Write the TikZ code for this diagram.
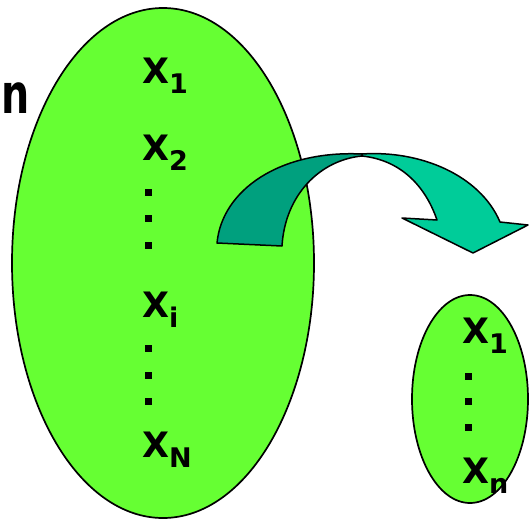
\documentclass[tikz,border=0pt]{standalone}
\usepackage{fontspec}
\setmainfont{DejaVu Sans}
\usetikzlibrary{shapes.geometric}
\definecolor{blobgreen}{HTML}{66FF33}
\definecolor{darkteal}{HTML}{00A07E}
\definecolor{lightteal}{HTML}{00CC99}
\newcommand{\bigX}[1]{{\fontsize{35}{35}\selectfont\bfseries X}\raisebox{-10pt}{\fontsize{27}{27}\selectfont\bfseries #1}}
\begin{document}
\begin{tikzpicture}[x=1pt,y=-1pt,
  blob/.style={ellipse, draw=black, line width=1.7pt, fill=blobgreen, inner sep=0},
  lbl/.style={inner sep=0, anchor=base west},
  sqdot/.style={rectangle, fill=black, inner sep=0, minimum size=7pt},
  band/.style={draw=black, line width=1.5pt, line join=round}]
\useasboundingbox (0,0) rectangle (529,519);
\node[blob, minimum width=302pt, minimum height=510pt] (big) at (163,263) {};
\node[blob, minimum width=116pt, minimum height=208pt] (small) at (470,399) {};
% curved arrow
\path[band, fill=darkteal] (217,243) .. controls (222,190) and (280,150) .. (362,154) -- (362,156) .. controls (320,160) and (285,195) .. (282,246) -- cycle;
\path[band, fill=lightteal] (362,154) .. controls (420,150) and (480,175) .. (500,222) -- (528,225) -- (473,253) -- (402,218) -- (437,220) .. controls (425,185) and (400,160) .. (362,156) -- cycle;
% left label
\node[inner sep=0, anchor=base west, font=\fontsize{55}{55}\selectfont\bfseries] (n) at (1,113) {\scalebox{0.72}[1]{n}};
% big set
\node[lbl] (x1) at (142,83) {\bigX{1}};
\node[lbl] (x2) at (142,160) {\bigX{2}};
\node[sqdot] (d1) at (148,192) {};
\node[sqdot] (d2) at (148,218) {};
\node[sqdot] (d3) at (148,245) {};
\node[lbl] (xi) at (142,317) {\bigX{i}};
\node[sqdot] (d4) at (148,348) {};
\node[sqdot] (d5) at (148,375) {};
\node[sqdot] (d6) at (148,401) {};
\node[lbl] (xN) at (142,457) {\bigX{N}};
% small set
\node[lbl] (s1) at (462,343) {\bigX{1}};
\node[sqdot] (e1) at (468,376) {};
\node[sqdot] (e2) at (468,401) {};
\node[sqdot] (e3) at (468,427) {};
\node[lbl] (sn) at (462,483) {\bigX{n}};
\end{tikzpicture}
\end{document}
